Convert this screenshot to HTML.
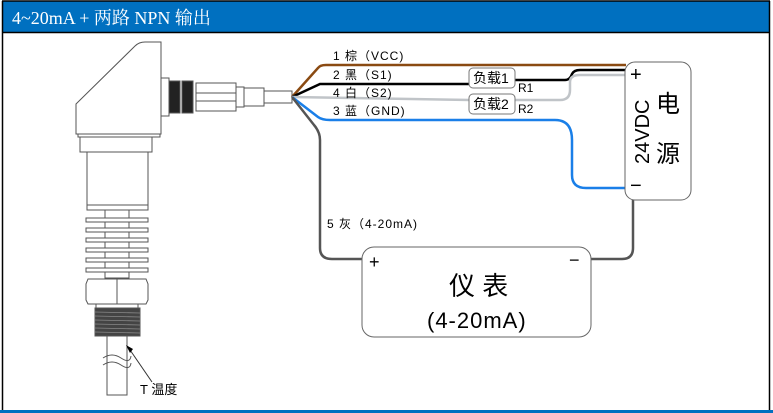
<!DOCTYPE html>
<html><head><meta charset="utf-8"><style>
html,body{margin:0;padding:0;background:#fff;}
svg{display:block;}
text{font-family:"Liberation Sans","Noto Sans CJK SC",sans-serif;}
</style></head><body>
<svg width="773" height="413" viewBox="0 0 773 413" xmlns="http://www.w3.org/2000/svg">
<rect x="0" y="0" width="773" height="413" fill="#fff"/>
<rect x="2" y="1" width="768" height="31" fill="#0070c0"/>
<line x1="2" y1="1" x2="770" y2="1" stroke="#000" stroke-width="1.5"/>
<line x1="2" y1="32.5" x2="770" y2="32.5" stroke="#000" stroke-width="1.5"/>
<line x1="2.5" y1="1" x2="2.5" y2="410" stroke="#000" stroke-width="1.5"/>
<line x1="769.5" y1="1" x2="769.5" y2="410" stroke="#000" stroke-width="1.5"/>
<rect x="0" y="410" width="773" height="3" fill="#0070c0"/>
<text x="12" y="24" fill="#fff" font-size="18" style='font-family:"Liberation Serif","Noto Serif CJK SC",serif'>4~20mA + 两路 NPN 输出</text>

<!-- sensor -->
<g stroke="#555" stroke-width="1" fill="#fff">
<path d="M76,104 L135,46 Q139,42 145,42 L161,42 L161,134 L76,134 Z"/>
<rect x="78" y="134" width="82" height="3"/>
<rect x="80" y="137" width="72" height="15"/>
<rect x="87" y="152" width="61" height="58"/>
<line x1="87" y1="205" x2="148" y2="205"/>
<rect x="105" y="210" width="24" height="68"/>
<g>
<rect x="86" y="218" width="62" height="4"/><rect x="86" y="228" width="62" height="4"/>
<rect x="86" y="238" width="62" height="4"/><rect x="86" y="248" width="62" height="4"/>
<rect x="86" y="258" width="62" height="4"/><rect x="86" y="268" width="62" height="4"/>
</g>
<path d="M88,279 L146,279 L148,284 L148,300 L146,304 L88,304 L86,300 L86,284 Z"/>
<line x1="117" y1="279" x2="117" y2="304"/>
<rect x="96" y="304" width="42" height="4"/>
<rect x="95" y="308" width="45" height="28" fill="#444"/>
<g stroke="#888" stroke-width="0.8">
<line x1="95" y1="312" x2="140" y2="313"/><line x1="95" y1="316" x2="140" y2="317"/>
<line x1="95" y1="320" x2="140" y2="321"/><line x1="95" y1="324" x2="140" y2="325"/>
<line x1="95" y1="328" x2="140" y2="329"/><line x1="95" y1="332" x2="140" y2="333"/>
</g>
<rect x="107" y="336" width="20" height="59"/>
<path d="M103,358 Q112,352 121,358 T131,356" fill="none"/>
<path d="M103,365 Q112,359 121,365 T131,363" fill="none"/>
<line x1="128" y1="347" x2="152" y2="382" stroke="#333"/>
</g>
<path d="M126,345 L133,349 L130,353 Z" fill="#000"/>
<text x="140" y="394" font-size="13" fill="#000">T 温度</text>

<!-- connector -->
<g stroke="#555" stroke-width="1" fill="#fff">
<rect x="161" y="78" width="8" height="38"/>
<rect x="169" y="81" width="11" height="32" fill="#222"/>
<rect x="182" y="81" width="11" height="32" fill="#222"/>
<rect x="196" y="83" width="40" height="28"/>
<line x1="196" y1="93" x2="236" y2="93"/><line x1="196" y1="101" x2="236" y2="101"/>
<rect x="236" y="87" width="8" height="20"/>
<rect x="244" y="88" width="20" height="18"/>
<rect x="264" y="91" width="28" height="12"/>
</g>

<!-- wires -->
<g fill="none" stroke-width="2.5">
<path d="M292,97 L318,68 Q320,65 326,65 L626,65" stroke="#8a4a12"/>
<path d="M292,97 L320,84 L470,84 M515,80 L565,80 Q570,80 572,74 Q574,70 580,70 L626,70" stroke="#000"/>
<path d="M292,97 L470,100 M515,100 L560,100 Q570,100 570,90 L570,82 Q570,75 580,75 L626,75" stroke="#c0c4c8"/>
<path d="M292,97 L318,117 Q322,120 330,120 L555,120 Q572,120 572,140 L572,175 Q572,188 586,188 L626,188" stroke="#1a7fe8"/>
<path d="M292,97 L314,125 Q320,132 320,140 L320,248 Q320,259 332,259 L362,259 M591,259 L622,259 Q633,259 633,248 L633,200" stroke="#555"/>
</g>

<g font-size="12" fill="#000" letter-spacing="1">
<text x="333" y="60">1 棕（VCC)</text>
<text x="333" y="79">2 黑（S1)</text>
<text x="333" y="97">4 白（S2)</text>
<text x="333" y="115">3 蓝（GND)</text>
<text x="327" y="228">5 灰（4-20mA)</text>
</g>
<g font-size="12" fill="#000">
<text x="518" y="92">R1</text>
<text x="518" y="113">R2</text>
</g>
<rect x="469" y="68" width="46" height="20" rx="4" fill="#fff" stroke="#777"/>
<text x="473" y="83" font-size="14">负载1</text>
<rect x="469" y="94" width="46" height="20" rx="4" fill="#fff" stroke="#777"/>
<text x="473" y="109" font-size="14">负载2</text>

<!-- power box -->
<rect x="625" y="62" width="66" height="138" rx="10" fill="#fff" stroke="#666"/>
<text x="630" y="81" font-size="20">+</text>
<text x="630" y="192" font-size="20">−</text>
<text transform="translate(649,164) rotate(-90)" font-size="20">24VDC</text>
<text x="656" y="112" font-size="24">电</text>
<text x="656" y="162" font-size="24">源</text>

<!-- instrument -->
<rect x="362" y="247" width="229" height="90" rx="12" fill="#fff" stroke="#666"/>
<text x="369" y="268" font-size="18">+</text>
<text x="569" y="266" font-size="18">−</text>
<text x="449" y="295" font-size="26">仪 表</text>
<text x="427" y="328" font-size="22" letter-spacing="1">(4-20mA)</text>
</svg>
</body></html>
